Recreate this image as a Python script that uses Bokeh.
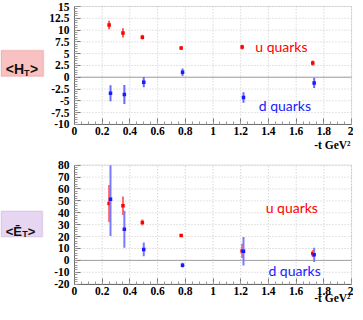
from bokeh.plotting import figure
from bokeh.layouts import column
from bokeh.models import Label, BoxAnnotation, FixedTicker, Range1d
from bokeh.embed import file_html
from bokeh.resources import INLINE

# ---------------- data ----------------
u_t = [0.25, 0.35, 0.49, 0.77, 1.21, 1.72]
d_t = [0.26, 0.36, 0.50, 0.78, 1.22, 1.73]

HT_u = [11.1, 9.4, 8.5, 6.2, 6.4, 3.0]
HT_u_err = [0.9, 1.0, 0.5, 0.3, 0.5, 0.55]
HT_d = [-3.4, -3.65, -1.05, 1.05, -4.3, -1.2]
HT_d_err = [1.7, 2.0, 1.1, 0.8, 1.1, 1.1]

ET_u = [47.8, 45.9, 31.8, 20.9, 8.0, 5.8]
ET_u_err = [15.5, 7.7, 2.5, 1.0, 6.0, 3.0]
ET_d = [51.4, 26.2, 9.2, -4.0, 7.7, 4.7]
ET_d_err = [31.0, 15.5, 5.8, 2.0, 12.0, 6.0]

x_ticks = [0, 0.2, 0.4, 0.6, 0.8, 1.0, 1.2, 1.4, 1.6, 1.8, 2.0]
x_tick_labels = ["0", "0.2", "0.4", "0.6", "0.8", "1", "1.2", "1.4", "1.6", "1.8", "2"]
HT_ticks = [-10, -7.5, -5, -2.5, 0, 2.5, 5, 7.5, 10, 12.5, 15]
HT_tick_labels = ["-10", "-7.5", "-5", "-2.5", "0", "2.5", "5", "7.5", "10", "12.5", "15"]
ET_ticks = [-20, -10, 0, 10, 20, 30, 40, 50, 60, 70, 80]
ET_tick_labels = ["-20", "-10", "0", "10", "20", "30", "40", "50", "60", "70", "80"]

RED = "#ff0000"
BLUE = "#1a1aff"
TICK_FONT = "Liberation Serif"
W, H = 353, 152
X_RANGE = (-0.534, 2.014)


def make_fig(y_view, ylim, yticks, ylabels, minor_y, xlab_offset):
    p = figure(width=W, height=H, output_backend="svg", toolbar_location=None,
               x_range=Range1d(*X_RANGE), y_range=Range1d(*y_view),
               min_border=0, min_border_left=0, min_border_right=0,
               min_border_top=0, min_border_bottom=0)
    p.outline_line_color = None
    p.xgrid.visible = False
    p.ygrid.visible = False
    x_minor = [i * 0.05 for i in range(41)]
    for ax, ticks, labels, minor, loc, bnds in (
            (p.xaxis[0], x_ticks, x_tick_labels, x_minor, ylim[0], (0, 2)),
            (p.yaxis[0], yticks, ylabels, minor_y, 0, ylim)):
        ax.ticker = FixedTicker(ticks=ticks, minor_ticks=minor)
        ax.major_label_overrides = {float(t): s for t, s in zip(ticks, labels)}
        ax.major_label_text_font = TICK_FONT
        ax.major_label_text_font_style = "bold"
        ax.major_label_text_font_size = "11.5px"
        ax.major_label_text_color = "#000000"
        ax.major_tick_in = 6
        ax.major_tick_out = 0
        ax.minor_tick_in = 3
        ax.minor_tick_out = 0
        ax.axis_line_color = "#555555"
        ax.major_tick_line_color = "#777777"
        ax.minor_tick_line_color = "#999999"
        ax.fixed_location = loc
        ax.bounds = bnds
    p.xaxis.major_label_standoff = 3
    p.yaxis.major_label_standoff = 5
    # dotted grid inside the data frame
    p.segment(x0=x_ticks, y0=[ylim[0]] * len(x_ticks), x1=x_ticks, y1=[ylim[1]] * len(x_ticks),
              line_color="#c8c8c8", line_dash="1 2", line_width=1)
    p.segment(x0=[0] * len(yticks), y0=yticks, x1=[2] * len(yticks), y1=yticks,
              line_color="#c8c8c8", line_dash="1 2", line_width=1)
    # zero line
    p.segment(x0=[0], y0=[0], x1=[2], y1=[0], line_color="#a0a0a0", line_width=1)
    # frame outline
    p.add_layout(BoxAnnotation(left=0, right=2, bottom=ylim[0], top=ylim[1],
                               fill_alpha=0, line_color="#b0b0b0", line_width=1))
    p.add_layout(Label(x=2.0, y=ylim[0], x_offset=-1, y_offset=xlab_offset, text="-t GeV\u00b2",
                       text_align="right", text_baseline="middle", text_font=TICK_FONT,
                       text_font_style="bold", text_font_size="11.5px", text_color="#000000"))
    return p


def add_series(p, xs, ys, es, ylim, color, bar_color):
    lo = [max(y - e, ylim[0]) for y, e in zip(ys, es)]
    hi = [min(y + e, ylim[1]) for y, e in zip(ys, es)]
    p.segment(x0=xs, y0=lo, x1=xs, y1=hi, line_color=bar_color, line_width=2)
    p.scatter(xs, ys, marker="square", size=3.5, fill_color=color, line_color=None)


def box_label(p, box, parts, fill, border):
    l, r, b, t = box
    p.add_layout(BoxAnnotation(left=l, right=r, bottom=b, top=t,
                               fill_color=fill, fill_alpha=1.0,
                               line_color=border, line_width=1.5))
    for txt, x, y, size in parts:
        p.add_layout(Label(x=x, y=y, text=txt,
                           text_font="Liberation Sans", text_font_style="bold",
                           text_font_size=size, text_color="#111111",
                           text_baseline="alphabetic"))


# ---------------- top: H_T ----------------
HT_lim = (-10, 15)
p1 = make_fig((-15.96, 16.27), HT_lim, HT_ticks, HT_tick_labels,
              [-10 + i * 0.5 for i in range(51)], -21)
add_series(p1, u_t, HT_u, HT_u_err, HT_lim, RED, "#ff5a5a")
add_series(p1, d_t, HT_d, HT_d_err, HT_lim, BLUE, "#6a6aff")
p1.add_layout(Label(x=1.305, y=6.6, text="u quarks", text_font="Lato", text_font_size="14px",
                    text_color=RED, text_baseline="alphabetic"))
p1.add_layout(Label(x=1.33, y=-5.9, text="d quarks", text_font="Lato", text_font_size="14px",
                    text_color=BLUE, text_baseline="alphabetic"))
box_label(p1, (-0.53, -0.224, 0.21, 5.67),
          [("<H", -0.496, 1.74, "14px"), ("T", -0.364, 1.0, "9px"), (">", -0.321, 1.74, "14px")],
          "#f9c2c2", "#e07878")

# ---------------- bottom: E_T ----------------
ET_lim = (-20, 80)
p2 = make_fig((-37.06, 90.67), ET_lim, ET_ticks, ET_tick_labels,
              [-20 + i * 2 for i in range(51)], -14)
add_series(p2, u_t, ET_u, ET_u_err, ET_lim, RED, "#ff6a6a")
add_series(p2, d_t, ET_d, ET_d_err, ET_lim, BLUE, "#7a7aff")
p2.add_layout(Label(x=1.38, y=44.2, text="u quarks", text_font="Lato", text_font_size="14px",
                    text_color=RED, text_baseline="alphabetic"))
p2.add_layout(Label(x=1.40, y=-8.7, text="d quarks", text_font="Lato", text_font_size="14px",
                    text_color=BLUE, text_baseline="alphabetic"))
box_label(p2, (-0.53, -0.231, 19.8, 41.3),
          [("<\u0112", -0.496, 24.5, "13px"), ("T", -0.377, 22.0, "9px"), (">", -0.338, 24.5, "13px")],
          "#e6d6f2", "#b596d2")

layout = column(p1, p2, spacing=0)
open("out.html", "w").write(file_html(layout, INLINE))
